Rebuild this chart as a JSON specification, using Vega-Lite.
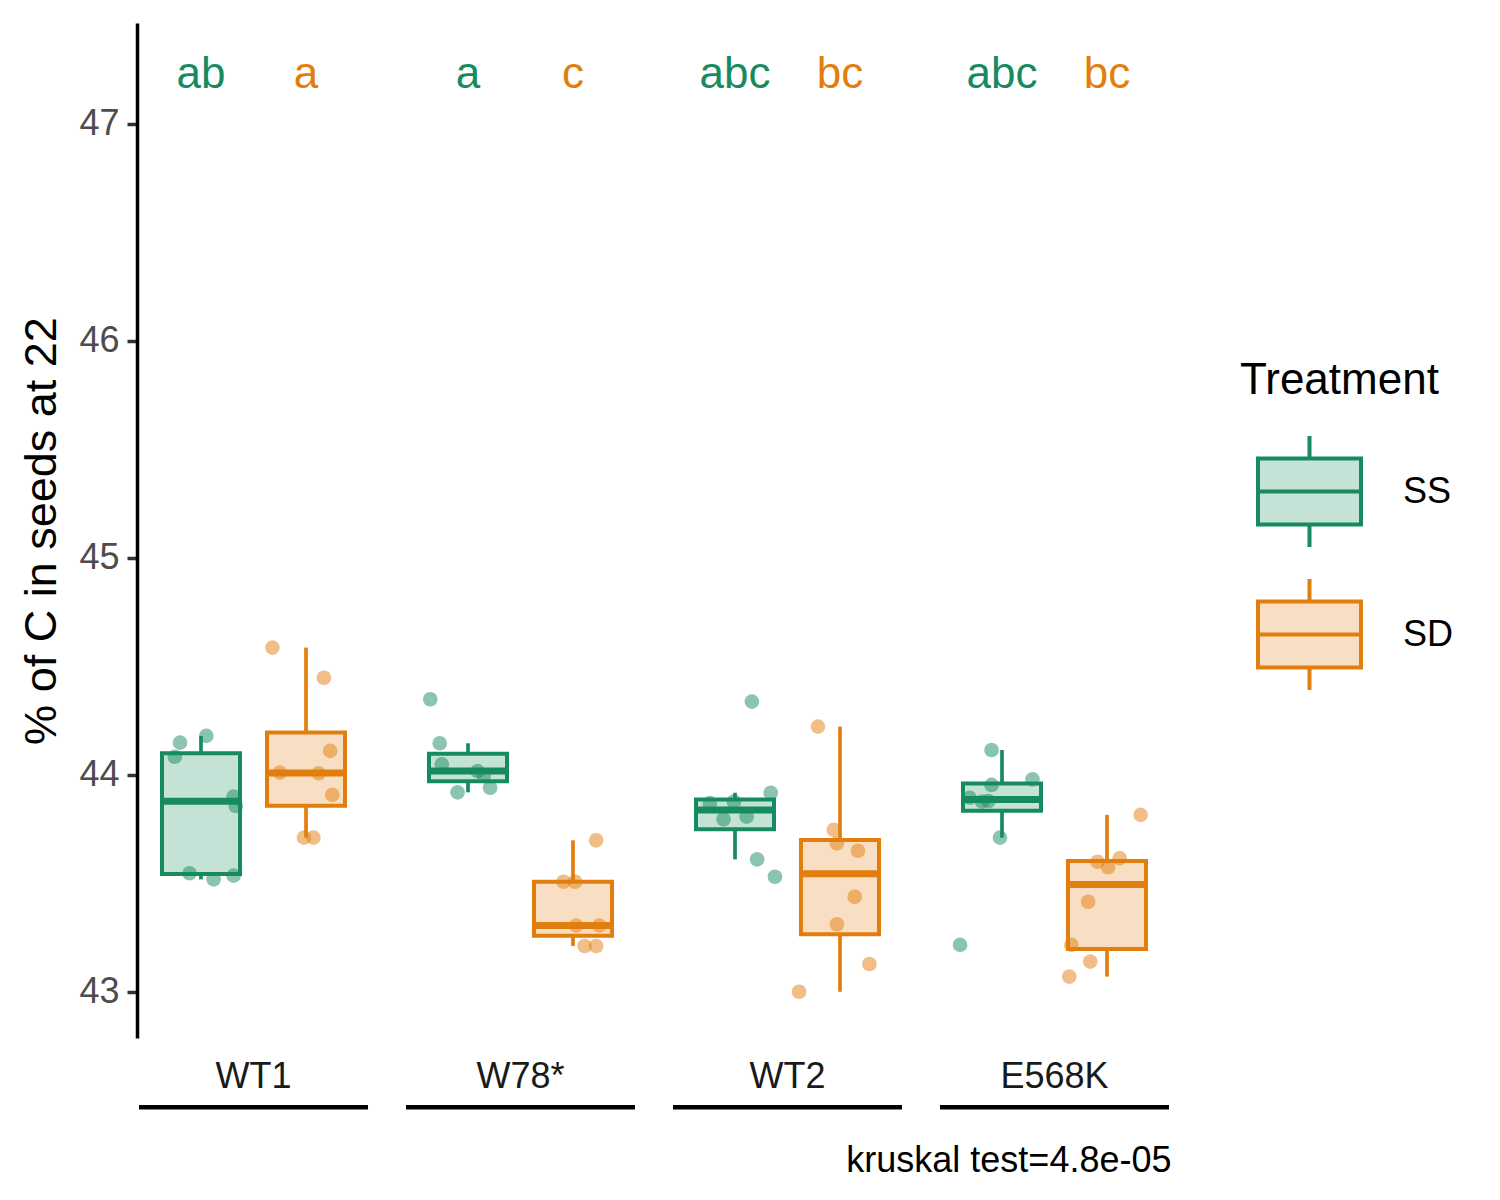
{
  "$schema": "https://vega.github.io/schema/vega-lite/v6.json",
  "width": 1034,
  "height": 1015,
  "autosize": {"type": "none"},
  "padding": {"left": 137, "top": 23, "right": 329, "bottom": 162},
  "background": "white",
  "data": {"values": [
      {"group": "WT1", "Treatment": "SS", "value": 44.149, "jitter": -0.19},
      {"group": "WT1", "Treatment": "SS", "value": 44.18, "jitter": 0.06},
      {"group": "WT1", "Treatment": "SS", "value": 44.084, "jitter": -0.24},
      {"group": "WT1", "Treatment": "SS", "value": 43.857, "jitter": 0.34},
      {"group": "WT1", "Treatment": "SS", "value": 43.9, "jitter": 0.32},
      {"group": "WT1", "Treatment": "SS", "value": 43.547, "jitter": -0.1},
      {"group": "WT1", "Treatment": "SS", "value": 43.519, "jitter": 0.13},
      {"group": "WT1", "Treatment": "SS", "value": 43.536, "jitter": 0.32},
      {"group": "WT1", "Treatment": "SD", "value": 44.587, "jitter": -0.31},
      {"group": "WT1", "Treatment": "SD", "value": 44.448, "jitter": 0.18},
      {"group": "WT1", "Treatment": "SD", "value": 44.111, "jitter": 0.24},
      {"group": "WT1", "Treatment": "SD", "value": 44.011, "jitter": -0.24},
      {"group": "WT1", "Treatment": "SD", "value": 44.008, "jitter": 0.13},
      {"group": "WT1", "Treatment": "SD", "value": 43.908, "jitter": 0.26},
      {"group": "WT1", "Treatment": "SD", "value": 43.711, "jitter": -0.01},
      {"group": "WT1", "Treatment": "SD", "value": 43.711, "jitter": 0.08},
      {"group": "W78*", "Treatment": "SS", "value": 44.349, "jitter": -0.35},
      {"group": "W78*", "Treatment": "SS", "value": 44.146, "jitter": -0.26},
      {"group": "W78*", "Treatment": "SS", "value": 44.049, "jitter": -0.24},
      {"group": "W78*", "Treatment": "SS", "value": 44.018, "jitter": 0.1},
      {"group": "W78*", "Treatment": "SS", "value": 43.92, "jitter": -0.09},
      {"group": "W78*", "Treatment": "SS", "value": 43.941, "jitter": 0.22},
      {"group": "W78*", "Treatment": "SS", "value": 44.0, "jitter": 0.16},
      {"group": "W78*", "Treatment": "SD", "value": 43.699, "jitter": 0.23},
      {"group": "W78*", "Treatment": "SD", "value": 43.508, "jitter": -0.08},
      {"group": "W78*", "Treatment": "SD", "value": 43.508, "jitter": 0.03},
      {"group": "W78*", "Treatment": "SD", "value": 43.306, "jitter": 0.04},
      {"group": "W78*", "Treatment": "SD", "value": 43.306, "jitter": 0.26},
      {"group": "W78*", "Treatment": "SD", "value": 43.212, "jitter": 0.12},
      {"group": "W78*", "Treatment": "SD", "value": 43.212, "jitter": 0.23},
      {"group": "WT2", "Treatment": "SS", "value": 44.338, "jitter": 0.17},
      {"group": "WT2", "Treatment": "SS", "value": 43.918, "jitter": 0.35},
      {"group": "WT2", "Treatment": "SS", "value": 43.87, "jitter": -0.23},
      {"group": "WT2", "Treatment": "SS", "value": 43.877, "jitter": 0.0},
      {"group": "WT2", "Treatment": "SS", "value": 43.796, "jitter": -0.1},
      {"group": "WT2", "Treatment": "SS", "value": 43.808, "jitter": 0.12},
      {"group": "WT2", "Treatment": "SS", "value": 43.611, "jitter": 0.22},
      {"group": "WT2", "Treatment": "SS", "value": 43.531, "jitter": 0.39},
      {"group": "WT2", "Treatment": "SD", "value": 44.223, "jitter": -0.2},
      {"group": "WT2", "Treatment": "SD", "value": 43.747, "jitter": -0.05},
      {"group": "WT2", "Treatment": "SD", "value": 43.685, "jitter": -0.02},
      {"group": "WT2", "Treatment": "SD", "value": 43.651, "jitter": 0.18},
      {"group": "WT2", "Treatment": "SD", "value": 43.439, "jitter": 0.15},
      {"group": "WT2", "Treatment": "SD", "value": 43.312, "jitter": -0.02},
      {"group": "WT2", "Treatment": "SD", "value": 43.129, "jitter": 0.29},
      {"group": "WT2", "Treatment": "SD", "value": 43.001, "jitter": -0.38},
      {"group": "E568K", "Treatment": "SS", "value": 44.115, "jitter": -0.09},
      {"group": "E568K", "Treatment": "SS", "value": 43.98, "jitter": 0.3},
      {"group": "E568K", "Treatment": "SS", "value": 43.954, "jitter": -0.09},
      {"group": "E568K", "Treatment": "SS", "value": 43.895, "jitter": -0.3},
      {"group": "E568K", "Treatment": "SS", "value": 43.877, "jitter": -0.18},
      {"group": "E568K", "Treatment": "SS", "value": 43.88, "jitter": -0.12},
      {"group": "E568K", "Treatment": "SS", "value": 43.711, "jitter": -0.01},
      {"group": "E568K", "Treatment": "SS", "value": 43.217, "jitter": -0.39},
      {"group": "E568K", "Treatment": "SD", "value": 43.816, "jitter": 0.33},
      {"group": "E568K", "Treatment": "SD", "value": 43.6, "jitter": -0.08},
      {"group": "E568K", "Treatment": "SD", "value": 43.616, "jitter": 0.13},
      {"group": "E568K", "Treatment": "SD", "value": 43.575, "jitter": 0.02},
      {"group": "E568K", "Treatment": "SD", "value": 43.416, "jitter": -0.17},
      {"group": "E568K", "Treatment": "SD", "value": 43.217, "jitter": -0.33},
      {"group": "E568K", "Treatment": "SD", "value": 43.14, "jitter": -0.15},
      {"group": "E568K", "Treatment": "SD", "value": 43.071, "jitter": -0.35}
  ]},
  "encoding": {
    "x": {
      "field": "group",
      "type": "nominal",
      "sort": null,
      "scale": {"domain": ["WT1", "W78*", "WT2", "E568K"], "paddingInner": 0.1423, "paddingOuter": 0.0075},
      "axis": {
        "title": "kruskal test=4.8e-05",
        "titleAnchor": "end",
        "titleFontSize": 36,
        "titleFontWeight": "normal",
        "titleColor": "black",
        "titlePadding": 49,
        "labelFontSize": 36,
        "labelColor": "#1A1A1A",
        "labelPadding": 21,
        "labelAngle": 0,
        "ticks": false,
        "tickSize": 0,
        "domain": false,
        "grid": false
      }
    },
    "color": {
      "field": "Treatment",
      "type": "nominal",
      "scale": {"domain": ["SS", "SD"], "range": ["#178B60", "#E27E0E"]},
      "legend": {
        "orient": "none",
        "legendX": 1103,
        "legendY": 336,
        "title": "Treatment",
        "titleFontSize": 44,
        "titleFontWeight": "normal",
        "titleColor": "black",
        "titlePadding": 35,
        "titleLimit": 400,
        "labelLimit": 300,
        "labelFontSize": 36,
        "labelColor": "black",
        "labelOffset": 40,
        "symbolType": "M-1,-0.64H1V0.64H-1ZM-1,0H1M0,-0.64V-1.08M0,0.64V1.08",
        "symbolSize": 10609,
        "symbolStrokeWidth": 4,
        "symbolOffset": 16,
        "rowPadding": 14,
        "padding": 0,
        "encode": {
          "symbols": {
            "update": {
              "fill": {"scale": "color", "field": "value"},
              "fillOpacity": {"value": 0.25},
              "stroke": {"scale": "color", "field": "value"},
              "opacity": {"value": 1}
            }
          }
        }
      }
    }
  },
  "layer": [
    {
      "transform": [
        {"calculate": "(datum.Treatment === 'SS' ? 0 : 1) + datum.jitter", "as": "xo"}
      ],
      "mark": {"type": "circle", "size": 215, "opacity": 0.5, "strokeWidth": 0},
      "encoding": {
        "y": {
          "field": "value",
          "type": "quantitative",
          "scale": {"domain": [42.788, 47.465], "nice": false, "zero": false},
          "axis": {
            "values": [43, 44, 45, 46, 47],
            "format": "d",
            "title": "% of C in seeds at 22",
            "titleFontSize": 45,
            "titleFontWeight": "normal",
            "titleColor": "black",
            "titlePadding": 14,
            "labelFontSize": 36,
            "labelColor": "#4D4D4D",
            "labelPadding": 8,
            "tickSize": 10,
            "tickWidth": 3.5,
            "tickColor": "#333333",
            "domainColor": "black",
            "domainWidth": 3.5,
            "grid": false
          }
        },
        "xOffset": {"field": "xo", "type": "quantitative", "scale": {"domain": [-0.581, 1.6], "nice": false, "zero": false}}
      }
    },
    {
      "transform": [
        {"joinaggregate": [
          {"op": "q1", "field": "value", "as": "jq1"},
          {"op": "q3", "field": "value", "as": "jq3"}
        ], "groupby": ["group", "Treatment"]},
        {"calculate": "datum.value >= datum.jq1 - 1.5 * (datum.jq3 - datum.jq1) ? datum.value : null", "as": "lo_ok"},
        {"calculate": "datum.value <= datum.jq3 + 1.5 * (datum.jq3 - datum.jq1) ? datum.value : null", "as": "hi_ok"},
        {"aggregate": [
          {"op": "q1", "field": "value", "as": "q1"},
          {"op": "q3", "field": "value", "as": "q3"},
          {"op": "median", "field": "value", "as": "med"},
          {"op": "min", "field": "lo_ok", "as": "lower"},
          {"op": "max", "field": "hi_ok", "as": "upper"}
        ], "groupby": ["group", "Treatment"]}
      ],
      "encoding": {
        "xOffset": {"field": "Treatment", "type": "nominal", "scale": {"type": "band", "domain": ["SS", "SD"], "paddingInner": 0.257, "paddingOuter": 0.219}}
      },
      "layer": [
        {
          "mark": {"type": "rule", "strokeWidth": 3.7},
          "encoding": {
            "y": {"field": "lower", "type": "quantitative"},
            "y2": {"field": "q1"}
          }
        },
        {
          "mark": {"type": "rule", "strokeWidth": 3.7},
          "encoding": {
            "y": {"field": "q3", "type": "quantitative"},
            "y2": {"field": "upper"}
          }
        },
        {
          "mark": {"type": "bar", "fillOpacity": 0.25, "strokeWidth": 4},
          "encoding": {
            "y": {"field": "q1", "type": "quantitative"},
            "y2": {"field": "q3"},
            "stroke": {"field": "Treatment", "type": "nominal", "scale": {"domain": ["SS", "SD"], "range": ["#178B60", "#E27E0E"]}, "legend": null}
          }
        },
        {
          "mark": {"type": "tick", "size": 80, "thickness": 7, "opacity": 1},
          "encoding": {
            "y": {"field": "med", "type": "quantitative"}
          }
        }
      ]
    },
    {
      "data": {"values": [
        {"group": "WT1", "Treatment": "SS", "letter": "ab"},
        {"group": "WT1", "Treatment": "SD", "letter": "a"},
        {"group": "W78*", "Treatment": "SS", "letter": "a"},
        {"group": "W78*", "Treatment": "SD", "letter": "c"},
        {"group": "WT2", "Treatment": "SS", "letter": "abc"},
        {"group": "WT2", "Treatment": "SD", "letter": "bc"},
        {"group": "E568K", "Treatment": "SS", "letter": "abc"},
        {"group": "E568K", "Treatment": "SD", "letter": "bc"}
      ]},
      "mark": {"type": "text", "fontSize": 44, "baseline": "alphabetic", "align": "center"},
      "encoding": {
        "xOffset": {"field": "Treatment", "type": "nominal", "scale": {"type": "band", "domain": ["SS", "SD"], "paddingInner": 0.257, "paddingOuter": 0.219}},
        "y": {"datum": 47.165},
        "text": {"field": "letter"}
      }
    },
    {
      "data": {"values": [
        {"group": "WT1"},
        {"group": "W78*"},
        {"group": "WT2"},
        {"group": "E568K"}
      ]},
      "mark": {"type": "bar", "color": "black"},
      "encoding": {
        "y": {"datum": 42.479},
        "y2": {"datum": 42.459},
        "color": {"value": "black"}
      }
    }
  ],
  "resolve": {"scale": {"xOffset": "independent"}},
  "config": {
    "font": "Liberation Sans",
    "view": {"stroke": null},
    "axis": {"labelFont": "Liberation Sans", "titleFont": "Liberation Sans"},
    "legend": {"labelFont": "Liberation Sans", "titleFont": "Liberation Sans"}
  }
}
